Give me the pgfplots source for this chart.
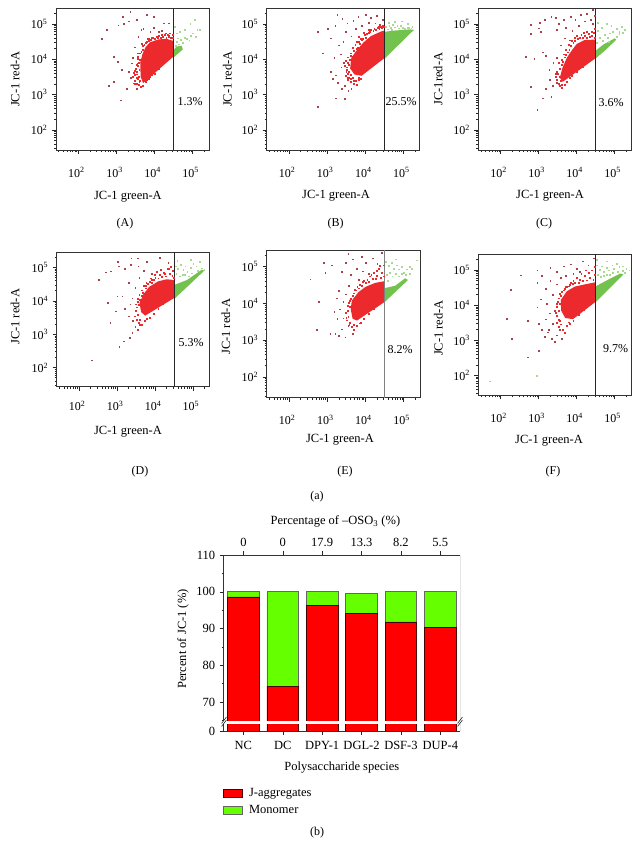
\documentclass[border=0pt]{standalone}
\usepackage{fontspec}
\setmainfont{Liberation Serif}
\usepackage{pgfplots}
\usepackage{pgfplotstable}
\pgfplotsset{compat=1.18}

\definecolor{coreR}{HTML}{EC2A2E}
\definecolor{darkR}{HTML}{A5424A}
\definecolor{coreG}{HTML}{74C24E}
\definecolor{paleG}{HTML}{A9D890}
\definecolor{barR}{HTML}{FF0000}
\definecolor{barG}{HTML}{66FF00}

% common look of the six flow panels, all on the same log scales
\pgfplotsset{
  jcpanel/.style={
    scale only axis,
    xmin=25.7, xmax=269000, ymin=27, ymax=282000,
    xtick={100,1000,10000,100000},
    ytick={100,1000,10000,100000},
    xticklabels={10\textsuperscript{2},10\textsuperscript{3},10\textsuperscript{4},10\textsuperscript{5}},
    yticklabels={10\textsuperscript{2},10\textsuperscript{3},10\textsuperscript{4},10\textsuperscript{5}},
    minor xtick={30,40,50,60,70,80,90,200,300,400,500,600,700,800,900,2000,3000,4000,5000,6000,7000,8000,9000,20000,30000,40000,50000,60000,70000,80000,90000,200000},
    minor ytick={30,40,50,60,70,80,90,200,300,400,500,600,700,800,900,2000,3000,4000,5000,6000,7000,8000,9000,20000,30000,40000,50000,60000,70000,80000,90000,200000},
    tick align=outside, xtick pos=bottom, ytick pos=left,
    major tick length=4pt, minor tick length=2pt,
    tick style={black!85, line width=0.5pt},
    axis line style={black!80, line width=0.7pt},
    ticklabel style={font=\fontsize{12}{14}\selectfont},
    xticklabel style={yshift=-10pt, xshift=-2pt},
    yticklabel style={xshift=-1pt},
    label style={font=\fontsize{12.5}{14}\selectfont},
    clip=true,
  },
  jcfillcore/.style={fill=coreR, draw=none},
  jcfillgrn/.style={fill=coreG, draw=none},
  jcfringe/.style={only marks, mark=square*, mark size=0.45pt, color=coreR, line width=0.1pt},
  jcsparse/.style={only marks, mark=square*, mark size=0.36pt, color=darkR, line width=0.1pt},
  jcfringeg/.style={only marks, mark=square*, mark size=0.4pt, color=paleG, line width=0.1pt},
  jcgate/.style={black!85, line width=0.8pt},
}

\pgfplotstableread{
x  jagg  mono
0  98.6  1.4
1  74.3  25.7
2  96.3  3.7
3  94.2  5.3
4  91.8  8.2
5  90.3  9.7
}\jctable

\begin{document}
\begin{tikzpicture}
\path[use as bounding box] (0,0) rectangle (640pt,860pt);

% (A)
\begin{loglogaxis}[jcpanel, at={(56pt,710pt)}, anchor=south west, width=153pt, height=142pt,
  xlabel={JC-1 green-A}, xlabel style={at={(axis description cs:0.47,-0.33)}, anchor=center},
  ylabel={JC-1 red-A}, ylabel style={at={(axis description cs:-0.268,0.5)}, anchor=center}]
\addplot[jcsparse] coordinates {(1450,1.6e5) (2250,2.2e5) (1100,9.3e4) (1500,1e5) (2050,1.2e5) (3400,1.3e5) (6100,1.8e5) (9300,1.6e5) (17000,1.05e5) (23000,1.05e5) (5000,7.5e4) (7600,6e4) (12600,6e4) (3700,4.4e4) (4600,2.8e4) (550,6.8e4) (410,3.9e4) (830,1.2e4) (1050,8500) (1380,5000) (830,2300) (610,1800) (1290,700) (1860,1500) (2050,4500) (2500,7800) (2750,2100) (3400,1500) (2300,3000) (4400,7e4) (9500,8e4) (15000,6.5e4) (3000,2.2e4) (3500,1.5e4) (2600,1.1e4)};
\addplot[jcfringe] coordinates {(3000,2500) (3400,2100) (3800,1900) (4200,1700) (3600,2900) (3000,3600) (2800,4200) (3300,4500) (3700,3300) (3100,5600) (3500,6500) (3900,5000) (3300,7200) (3800,8200) (4100,9800) (3600,10500) (4800,1850) (5800,2300) (6800,2800) (8500,3600) (4400,16500) (4800,19000) (5300,26000) (4700,24000) (5700,29000) (6200,32000) (7000,34000) (6600,38000) (8000,36000) (9000,40000) (10000,39000) (12000,41000) (14000,40000) (13000,46000) (16000,43000) (18000,50000) (20000,42000) (23000,45000) (26000,42000) (22000,50000) (28000,40000) (3600,7800) (3000,4900) (2600,3300) (3400,3800) (3000,2000) (3900,2400) (3600,12000) (4100,15000) (7000,39000) (8500,42000) (11000,44000) (15000,50000) (19000,55000) (24000,47000) (29000,42000) (30000,50000) (25000,55000) (3300,3000) (4100,2500) (6200,2700) (7500,3200) (10000,3900) (13000,5300)};
\addplot[jcfillcore] coordinates {(31500,12000) (5000,2100) (4300,3200) (4200,8000) (4800,14000) (5800,22000) (7500,30000) (12000,36000) (20000,38000) (31500,33000)} -- cycle;
\addplot[jcfringeg] coordinates {(35000,25000) (38000,32000) (42000,27000) (48000,36000) (55000,30000) (60000,42000) (70000,38000) (80000,35000) (90000,48000) (1e5,55000) (1.2e5,45000) (1.3e5,70000) (37000,55000) (45000,60000) (60000,70000) (85000,1e5) (1.1e5,1.3e5) (34000,85000) (40000,40000) (1.5e5,70000)};
\addplot[jcfillgrn] coordinates {(32500,11500) (55000,19000) (52000,24000) (38000,23000) (32500,19000)} -- cycle;
\addplot[jcgate] coordinates {(32000,27) (32000,282000)};
\end{loglogaxis}

% (B)
\begin{loglogaxis}[jcpanel, at={(266.7pt,710pt)}, anchor=south west, width=153pt, height=142pt,
  xlabel={JC-1 green-A}, xlabel style={at={(axis description cs:0.453,-0.322)}, anchor=center},
  ylabel={JC-1 red-A}, ylabel style={at={(axis description cs:-0.257,0.5)}, anchor=center}]
\addplot[jcsparse] coordinates {(550,460) (1650,800) (2800,760) (550,6e4) (1000,7.5e4) (740,1.5e4) (1800,1.8e5) (2450,1.45e5) (3000,6e4) (1650,3600) (1230,4500) (1400,2900) (1900,2200) (2400,1500) (2900,1800) (3500,1300) (4200,1500) (1500,1.1e4) (2200,1.4e4) (2000,2.5e4) (2600,3.2e4) (1200,4e4) (1600,9e4) (3300,1.05e5) (4800,1.25e5) (6500,1.6e5) (10000,1.8e5) (14000,1.5e5) (20000,1.7e5) (28000,1.3e5) (4200,4.5e4) (5500,7.5e4) (8000,9e4) (12000,1.1e5) (18000,1.05e5) (24000,9.5e4) (2700,8000) (2300,6000) (3100,4500) (3300,3000)};
\addplot[jcfringe] coordinates {(3300,6000) (3600,4500) (4000,3600) (4600,3000) (5500,2500) (6500,2600) (7500,2900) (4200,2400) (3700,3000) (5000,2000) (6000,1900) (3400,8000) (3800,10000) (3500,11500) (4500,12000) (4200,15000) (5000,18000) (5600,16000) (6200,22000) (5400,26000) (7000,28000) (8000,35000) (8500,38000) (7500,38000) (10000,42000) (11000,52000) (9500,50000) (12500,56000) (14000,68000) (13000,60000) (17000,75000) (19000,70000) (21000,80000) (23000,75000) (25000,85000) (27000,78000) (30000,82000) (28000,90000) (12000,70000) (6500,45000) (3200,5200) (2900,6800) (3000,9000) (3000,3500) (3500,2600) (4000,2800) (4800,2500) (3700,7000) (4000,13000) (4700,21000) (5800,20000) (5800,31000) (6800,32000) (9000,58000) (16000,64000) (22000,85000) (3400,4000) (6800,3000)};
\addplot[jcfillcore] coordinates {(31500,10700) (8000,3400) (5200,3700) (4000,5500) (4300,11000) (6000,18000) (9000,30000) (14000,45000) (25000,60000) (31500,65000)} -- cycle;
\addplot[jcfringeg] coordinates {(34000,85000) (38000,72000) (42000,90000) (47000,78000) (52000,95000) (60000,82000) (68000,90000) (75000,76000) (85000,88000) (95000,80000) (1.1e5,75000) (1.25e5,80000) (1.4e5,78000) (1.6e5,76000) (40000,1.1e5) (60000,1.15e5) (90000,1.2e5) (1.3e5,1e5) (1.7e5,85000) (48000,68000)};
\addplot[jcfillgrn] coordinates {(32500,10500) (1.9e5,6.8e4) (1.5e5,7e4) (6e4,6.5e4) (32500,6e4)} -- cycle;
\addplot[jcgate] coordinates {(32000,27) (32000,282000)};
\end{loglogaxis}

% (C)
\begin{loglogaxis}[jcpanel, at={(478.3pt,710pt)}, anchor=south west, width=152.7pt, height=142pt,
  xlabel={JC-1 green-A}, xlabel style={at={(axis description cs:0.47,-0.322)}, anchor=center},
  ylabel={JC-1red-A}, ylabel style={at={(axis description cs:-0.264,0.5)}, anchor=center}]
\addplot[jcsparse] coordinates {(620,5.4e4) (1000,7.6e4) (1130,6e4) (620,9.4e4) (2100,1.6e5) (3400,1e5) (6900,1.6e5) (12700,1.8e5) (26000,2.5e5) (23000,1.3e5) (460,1.2e4) (760,1.07e4) (1250,1.6e4) (1500,1.3e4) (620,1700) (910,370) (1250,800) (2100,870) (1500,1500) (1860,5000) (2800,4000) (1050,1.1e5) (1400,1.3e5) (2800,1.5e5) (4500,1.3e5) (9000,1.3e5) (16000,1.2e5) (29000,1.7e5) (3000,7e4) (5000,8e4) (7500,6.5e4) (11000,9e4) (18000,2e5) (26000,1e5) (2300,1800) (2900,2200) (1900,2600) (2400,8000) (3000,1.1e4) (3800,2.5e4) (4800,4e4) (6500,3.5e4)};
\addplot[jcfringe] coordinates {(3000,2700) (3300,2100) (3600,1800) (4000,1600) (4700,1900) (2800,3300) (3200,3900) (3600,3200) (3000,4600) (3500,5500) (3900,7000) (4300,8500) (4700,11500) (5200,13500) (5700,16000) (6300,19000) (7000,24000) (8000,29000) (9000,33000) (10500,38000) (12000,42000) (14000,40000) (16000,47000) (18000,42000) (20000,52000) (22000,44000) (25000,48000) (28000,56000) (30000,42000) (24000,60000) (29000,72000) (18000,60000) (13000,50000) (9000,42000) (5500,2300) (6500,3000) (4000,1950) (3700,2500) (7500,3500) (10000,4400) (14000,6000) (3400,8000) (3900,10000) (4400,14000) (5200,19000) (6000,26000) (7200,33000) (10000,48000) (15000,58000)};
\addplot[jcfillcore] coordinates {(31500,10700) (4300,2300) (3600,3000) (4200,5600) (5500,11000) (7500,18000) (10000,27000) (16000,35000) (31500,36000)} -- cycle;
\addplot[jcfringeg] coordinates {(34000,30000) (40000,42000) (48000,33000) (55000,50000) (65000,42000) (75000,55000) (90000,60000) (1.1e5,75000) (1.3e5,60000) (1.5e5,85000) (1.8e5,70000) (36000,65000) (45000,80000) (60000,1e5) (80000,9e4) (35000,1.1e5) (1.3e5,5.2e4) (1.1e5,4.5e4) (70000,3.2e4) (1.6e5,5.8e4)};
\addplot[jcfillgrn] coordinates {(32500,10800) (6e4,1.9e4) (1.1e5,3.6e4) (1e5,3.9e4) (5e4,2.6e4) (32500,1.8e4)} -- cycle;
\addplot[jcgate] coordinates {(32000,27) (32000,282000)};
\end{loglogaxis}

% (D)
\begin{loglogaxis}[jcpanel, at={(56.7pt,473.3pt)}, anchor=south west, width=152.6pt, height=134.4pt,
  xticklabel style={yshift=3pt},
  xlabel={JC-1 green-A}, xlabel style={at={(axis description cs:0.467,-0.337)}, anchor=center},
  ylabel={JC-1 red-A}, ylabel style={at={(axis description cs:-0.273,0.52)}, anchor=center}]
\addplot[jcsparse] coordinates {(210,170) (1130,430) (1500,630) (2100,800) (320,4.4e4) (500,7.2e4) (680,7.7e4) (1050,1.5e5) (2350,1.9e5) (3400,1.9e5) (550,8700) (910,4900) (650,2200) (1000,1.4e4) (1350,1.4e4) (1100,1.1e5) (1600,9e4) (2300,1.2e5) (3600,1.1e5) (6000,1.5e5) (13000,2e5) (22000,1.4e5) (2000,3.5e4) (1600,6000) (2000,3500) (2600,2600) (3000,1700) (2500,1100) (3500,1400) (2500,1.2e4) (3000,2.5e4) (3800,5e4) (5000,8e4) (8000,6.5e4) (2200,8000)};
\addplot[jcfringe] coordinates {(2900,3500) (3200,2700) (3600,2300) (4000,2800) (4500,2000) (5200,2500) (6000,2900) (7000,3200) (3000,5000) (3500,4000) (3200,6500) (3700,7500) (3500,9500) (3900,11000) (4400,14500) (4700,18000) (4500,21000) (5500,24000) (5700,28000) (6500,33000) (7000,38000) (8000,36000) (9000,43000) (10000,50000) (12000,48000) (13000,60000) (15000,52000) (17000,72000) (19000,55000) (21000,90000) (24000,65000) (26000,1.05e5) (29000,80000) (30000,50000) (28000,58000) (4000,2000) (8000,42000) (11000,75000) (3000,8000) (3400,12000) (3800,15000) (5000,29000) (5800,36000) (7500,48000) (9500,60000) (14000,85000) (18000,64000) (23000,90000) (9000,4200) (12000,5800) (16000,8000)};
\addplot[jcfillcore] coordinates {(31500,12000) (5500,3600) (4300,4600) (3900,8700) (5000,16000) (7000,26000) (12000,38000) (20000,44000) (31500,42000)} -- cycle;
\addplot[jcfringeg] coordinates {(34000,1.1e5) (40000,90000) (48000,1.2e5) (55000,85000) (62000,1.1e5) (70000,75000) (85000,1e5) (1e5,1.3e5) (1.2e5,1.1e5) (1.5e5,1.5e5) (36000,65000) (44000,55000) (52000,60000) (60000,62000) (75000,55000) (90000,68000) (1.3e5,80000) (1.7e5,95000) (1.95e5,85000) (38000,1.6e5) (85000,1.7e5)};
\addplot[jcfillgrn] coordinates {(32500,11500) (2e5,8e4) (1.7e5,8.5e4) (7e4,4.2e4) (32500,3e4)} -- cycle;
\addplot[jcgate] coordinates {(32000,27) (32000,282000)};
\end{loglogaxis}

% (E)
\begin{loglogaxis}[jcpanel, at={(266.7pt,462.3pt)}, anchor=south west, width=153.3pt, height=147.7pt,
  xlabel={JC-1 green-A}, xlabel style={at={(axis description cs:0.478,-0.286)}, anchor=center},
  ylabel={JC-1 red-A}, ylabel style={at={(axis description cs:-0.267,0.48)}, anchor=center}]
\addplot[jcsparse] coordinates {(355,4.6e4) (530,1900) (800,1.26e5) (1290,1.1e5) (3500,2.3e5) (7900,1.9e5) (26000,2.4e5) (2350,7.4e4) (1170,1500) (2900,1200) (1750,1.4e4) (590,1.1e4) (870,7e4) (1600,1500) (2000,1300) (2400,2000) (1500,6000) (2100,7000) (2600,1.1e4) (2000,2.2e4) (3000,1.8e4) (3600,3e4) (3000,1.3e5) (4500,1.6e5) (5800,9e4) (10000,1.3e5) (15000,1.7e5) (20000,1.2e5) (4000,6e4) (6500,4.5e4) (8500,7.5e4) (12000,6.5e4) (3500,2500) (4500,1500) (1800,3800) (2600,4000)};
\addplot[jcfringe] coordinates {(3200,3500) (3500,4400) (3000,5500) (3700,2700) (4300,2300) (5000,1900) (5800,2500) (6800,2900) (3400,6500) (3800,8000) (3600,10500) (4100,13500) (4500,16000) (4800,19000) (5500,23000) (5300,24000) (6000,28000) (7000,32000) (7800,31000) (8500,38000) (10000,36000) (11000,45000) (12000,40000) (13000,55000) (15000,48000) (16000,70000) (18000,46000) (20000,58000) (22000,90000) (25000,50000) (27000,70000) (29000,55000) (30000,1.1e5) (24000,1.05e5) (3900,3000) (4800,2700) (7500,3000) (3100,4200) (3300,8500) (3800,12000) (6500,26000) (9000,42000) (14000,60000) (19000,80000) (9000,3900) (12000,5200) (16000,7000)};
\addplot[jcfillcore] coordinates {(31500,10800) (6000,3400) (4600,3800) (4100,7000) (4400,12000) (6500,20000) (10000,28000) (18000,36000) (31500,40000)} -- cycle;
\addplot[jcfringeg] coordinates {(34000,1.4e5) (40000,1.05e5) (48000,1.3e5) (55000,90000) (65000,1.1e5) (75000,85000) (90000,1e5) (1e5,70000) (1.2e5,85000) (1.4e5,1e5) (1.6e5,90000) (36000,60000) (42000,70000) (50000,55000) (60000,65000) (75000,55000) (90000,65000) (1.1e5,60000) (1.4e5,65000) (60000,1.6e5) (2.2e5,1.5e5) (38000,42000)};
\addplot[jcfillgrn] coordinates {(32500,11000) (1.3e5,4.3e4) (1.1e5,4.8e4) (6e4,3e4) (32500,2.6e4)} -- cycle;
\addplot[black!50, line width=1.3pt] coordinates {(32000,27) (32000,282000)};
\end{loglogaxis}

% (F)
\begin{loglogaxis}[jcpanel, at={(478.3pt,464.7pt)}, anchor=south west, width=152.7pt, height=141pt,
  xlabel={JC-1 green-A}, xlabel style={at={(axis description cs:0.463,-0.323)}, anchor=center},
  ylabel={JC-1 red-A}, ylabel style={at={(axis description cs:-0.262,0.477)}, anchor=center}]
\addplot[jcfringeg] coordinates {(52,69) (870,100)};
\addplot[jcsparse] coordinates {(195,1100) (145,4200) (180,2.8e4) (500,3700) (500,330) (330,7.2e4) (910,1e5) (1000,510) (910,8900) (1000,3000) (1200,2000) (1400,1300) (1700,1700) (2200,1100) (2600,900) (3000,1400) (1100,1.5e4) (1600,1.1e4) (1900,6000) (1500,4000) (2300,3000) (2600,7000) (2300,2e4) (1500,3e4) (2000,5e4) (3000,4e4) (1200,7e4) (2000,1.2e5) (3000,9e4) (4500,1.3e5) (7000,1.5e5) (10000,1.1e5) (14000,1.8e5) (20000,1.4e5) (28000,2.2e5) (5000,7e4) (8000,8e4) (12000,9e4) (24000,1e5) (3800,6e4) (6000,3.5e4) (900,4.5e4) (1800,2000) (3500,2000) (4000,1100)};
\addplot[jcfringe] coordinates {(3000,3200) (3300,2500) (3800,2900) (4200,2000) (4800,1700) (5500,2700) (6500,3000) (8000,3600) (3000,5000) (3400,4000) (3300,7000) (3000,9000) (3600,11000) (3200,13000) (3400,16000) (3800,19000) (4500,27000) (4000,25000) (5500,33000) (6500,38000) (5000,34000) (7800,42000) (9000,45000) (8000,50000) (11000,45000) (12000,55000) (14000,50000) (16000,70000) (18000,52000) (20000,85000) (22000,60000) (25000,1e5) (27000,55000) (29000,75000) (30000,1.25e5) (17000,1e5) (3600,3600) (2800,6000) (3000,11000) (3500,22000) (4800,30000) (7000,45000) (10000,60000) (13000,80000) (11000,5400) (15000,7400) (6000,3300)};
\addplot[jcfillcore] coordinates {(31500,12500) (8000,4000) (5000,4300) (3900,7000) (3800,14000) (5500,25000) (9000,34000) (18000,40000) (31500,45000)} -- cycle;
\addplot[jcfringeg] coordinates {(34000,1.4e5) (40000,1.05e5) (46000,1.3e5) (52000,90000) (62000,1.2e5) (70000,1e5) (85000,1.4e5) (95000,1.1e5) (1.1e5,1.5e5) (1.3e5,1.25e5) (1.6e5,1.3e5) (2e5,1.1e5) (2.4e5,1e5) (36000,75000) (42000,65000) (50000,70000) (62000,75000) (75000,75000) (90000,85000) (1.2e5,90000) (1.6e5,95000) (1.8e5,85000) (34000,2e5) (60000,1.8e5)};
\addplot[jcfillgrn] coordinates {(32500,12500) (1.7e5,7.5e4) (1.4e5,8e4) (6e4,5e4) (32500,3.5e4)} -- cycle;
\addplot[jcgate] coordinates {(32000,27) (32000,282000)};
\end{loglogaxis}

% bar chart, top part above the axis break
\begin{axis}[scale only axis, at={(223.7pt,138.5pt)}, anchor=south west, width=236.3pt, height=166.5pt,
  ybar stacked, bar width=31.7pt,
  xmin=-0.5, xmax=5.5, ymin=64.7, ymax=110,
  axis x line*=top, axis y line*=left,
  xtick={0,1,2,3,4,5}, xticklabels={0,0,17.9,13.3,8.2,5.5},
  ytick={70,80,90,100,110}, minor ytick={65,75,85,95,105},
  tick align=outside, major tick length=4pt, minor tick length=2pt,
  tick style={black!85, line width=0.5pt},
  axis line style={black!80, line width=0.7pt, -},
  ticklabel style={font=\fontsize{12.5}{14}\selectfont, /pgf/number format/assume math mode=true},
  xticklabel style={yshift=1pt},
  yticklabel style={xshift=-1pt},
  label style={font=\fontsize{12.5}{14}\selectfont},
  xlabel={Percentage of –OSO\textsubscript{3} (\%)}, xlabel style={at={(axis description cs:0.473,1.2)}, anchor=center},
  ylabel={Percent of JC-1 (\%)}, ylabel style={at={(axis description cs:-0.172,0.495)}, anchor=center},
]
\addplot[fill=barR, draw=black!70!red, line width=0.7pt] table[x=x, y=jagg] {\jctable};
\addplot[fill=barG, draw=black!60, line width=0.7pt] table[x=x, y=mono] {\jctable};
\draw[black!80, line width=0.7pt] (rel axis cs:1,0) -- (rel axis cs:1,1);
\end{axis}

% bar chart, bottom part below the axis break
\begin{axis}[scale only axis, at={(223.7pt,129pt)}, anchor=south west, width=236.3pt, height=7.5pt,
  ybar stacked, bar width=31.7pt,
  xmin=-0.5, xmax=5.5, ymin=0, ymax=5,
  axis x line*=bottom, axis y line*=left,
  xtick={0,1,2,3,4,5}, xticklabels={NC,DC,DPY-1,DGL-2,DSF-3,DUP-4},
  ytick={0},
  tick align=outside, major tick length=4pt,
  tick style={black!85, line width=0.5pt},
  axis line style={black!80, line width=0.7pt, -},
  ticklabel style={font=\fontsize{12.5}{14}\selectfont, /pgf/number format/assume math mode=true},
  xticklabel style={yshift=-3pt},
  yticklabel style={xshift=-1pt},
  label style={font=\fontsize{12.5}{14}\selectfont},
  xlabel={Polysaccharide species}, xlabel style={at={(axis description cs:0.5,-4.87)}, anchor=center},
  legend style={at={(axis description cs:-0.002,-7.4)}, anchor=north west, draw=none, fill=none,
    font=\fontsize{12.5}{14}\selectfont, inner sep=0pt, row sep=3pt,
    /tikz/every odd column/.style={column sep=4pt}},
  legend cell align=left,
  legend image code/.code={\draw[#1] (0pt,-3.8pt) rectangle (19pt,3.8pt);},
]
\addplot[fill=barR, draw=black!70!red, line width=0.7pt] table[x=x, y=jagg] {\jctable};
\addplot[fill=barG, draw=black!60, line width=0.7pt] table[x=x, y=mono] {\jctable};
\legend{J-aggregates,Monomer}
\draw[black!80, line width=0.7pt] (rel axis cs:1,0) -- (rel axis cs:1,1);
\end{axis}

% white band of the axis break, then its marks
\fill[white] (219pt,136.3pt) rectangle (465pt,139pt);
\draw[black!85, line width=0.6pt] (221.5pt,133.5pt) -- (226.5pt,140pt) (221.5pt,136.5pt) -- (226.5pt,143pt);
\draw[black!85, line width=0.6pt] (457.5pt,133.5pt) -- (462.5pt,140pt) (457.5pt,136.5pt) -- (462.5pt,143pt);

% percentages beside the gates and panel letters
\begin{scope}[every node/.style={font=\fontsize{12}{14}\selectfont}]
\node at (190pt,758.3pt) {1.3\%};
\node at (401pt,758.3pt) {25.5\%};
\node at (611pt,757pt) {3.6\%};
\node at (191pt,517.3pt) {5.3\%};
\node at (400pt,510pt) {8.2\%};
\node at (615.7pt,511pt) {9.7\%};
\node at (125pt,636pt) {(A)};
\node at (335.7pt,636pt) {(B)};
\node at (544pt,636pt) {(C)};
\node at (140pt,388.3pt) {(D)};
\node at (345pt,388.3pt) {(E)};
\node at (553pt,388.3pt) {(F)};
\node at (317pt,363pt) {(a)};
\node at (317pt,27pt) {(b)};
\end{scope}
\end{tikzpicture}
\end{document}
